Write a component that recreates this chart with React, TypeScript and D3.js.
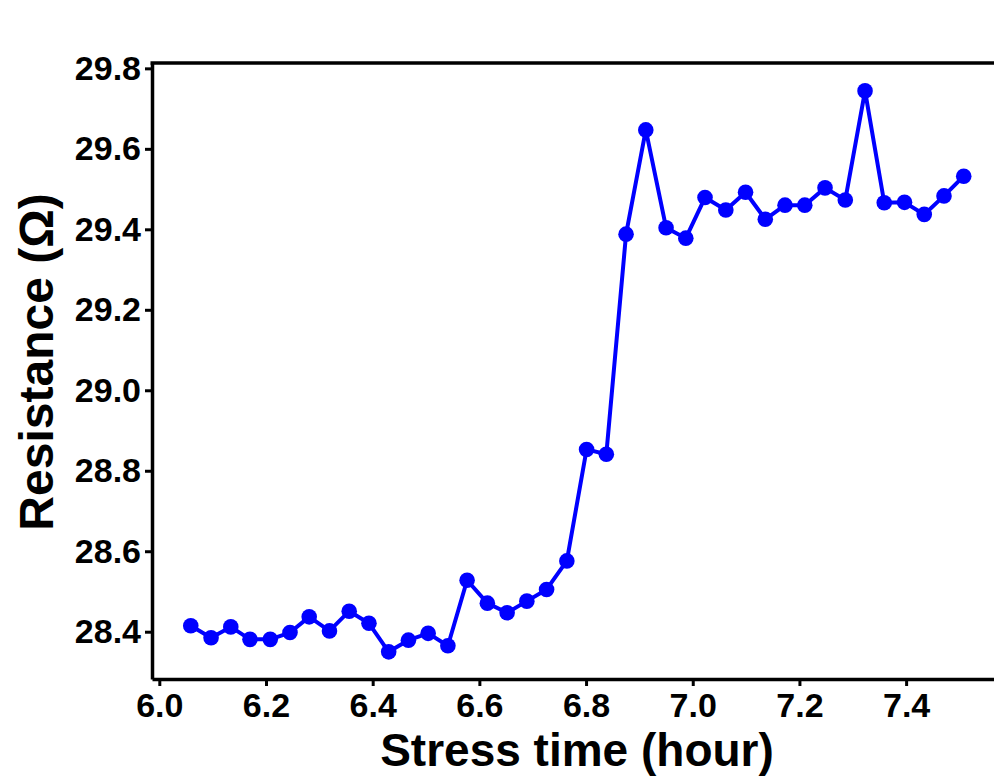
import React, { useEffect, useRef } from "react";
import * as d3 from "d3";

// stress time (hour) for every measurement
const times = [
  6.059, 6.097, 6.134, 6.170, 6.208, 6.245, 6.281, 6.319, 6.356, 6.393,
  6.430, 6.467, 6.504, 6.541, 6.577, 6.615, 6.652, 6.689, 6.726, 6.764,
  6.801, 6.838, 6.875, 6.912, 6.950, 6.987, 7.023, 7.062, 7.099, 7.136,
  7.173, 7.210, 7.248, 7.286, 7.323, 7.359, 7.397, 7.434, 7.471, 7.508,
];

// resistance (ohm)
const resistance = [
  28.415, 28.385, 28.412, 28.381, 28.381, 28.398, 28.437, 28.402, 28.451, 28.421,
  28.350, 28.379, 28.396, 28.365, 28.528, 28.471, 28.447, 28.476, 28.505, 28.576,
  28.853, 28.841, 29.388, 29.647, 29.404, 29.378, 29.479, 29.448, 29.492, 29.425,
  29.460, 29.460, 29.503, 29.473, 29.744, 29.466, 29.467, 29.437, 29.483, 29.532,
];

const xTicks = [6.0, 6.2, 6.4, 6.6, 6.8, 7.0, 7.2, 7.4];
const yTicks = [28.4, 28.6, 28.8, 29.0, 29.2, 29.4, 29.6, 29.8];

const W = 994;
const H = 779;
const FONT = "'Liberation Sans', Arial, Helvetica, sans-serif";

export default function App() {
  const ref = useRef<SVGSVGElement>(null);

  useEffect(() => {
    const svg = d3.select(ref.current);
    svg.selectAll("*").remove();

    const left = 152, right = 1000, top = 63, bottom = 679;

    const x = d3.scaleLinear().domain([5.9863, 7.576]).range([left, right]);
    const y = d3.scaleLinear().domain([28.2825, 29.8133]).range([bottom, top]);

    const data = times.map((t, i) => ({ t, r: resistance[i] }));

    // top frame line
    svg.append("line")
      .attr("x1", left - 1.5).attr("x2", right)
      .attr("y1", top).attr("y2", top)
      .attr("stroke", "#000").attr("stroke-width", 3.5);

    const xAxis = svg.append("g")
      .attr("transform", `translate(0,${bottom})`)
      .call(d3.axisBottom(x).tickValues(xTicks).tickFormat(d3.format(".1f")).tickSize(7).tickSizeOuter(0).tickPadding(7));

    const yAxis = svg.append("g")
      .attr("transform", `translate(${left},0)`)
      .call(d3.axisLeft(y).tickValues(yTicks).tickFormat(d3.format(".1f")).tickSize(7).tickSizeOuter(0).tickPadding(4));

    [xAxis, yAxis].forEach(g => {
      g.select(".domain").attr("stroke", "#000").attr("stroke-width", 3.5);
      g.selectAll(".tick line").attr("stroke", "#000").attr("stroke-width", 3);
      g.selectAll(".tick text")
        .attr("fill", "#000")
        .style("font-family", FONT)
        .style("font-weight", "bold")
        .style("font-size", "34px");
    });

    const line = d3.line<{ t: number; r: number }>()
      .x(d => x(d.t))
      .y(d => y(d.r));

    svg.append("path")
      .datum(data)
      .attr("d", line)
      .attr("fill", "none")
      .attr("stroke", "#0000ff")
      .attr("stroke-width", 4)
      .attr("stroke-linejoin", "round");

    svg.append("g")
      .selectAll("circle")
      .data(data)
      .enter().append("circle")
      .attr("cx", d => x(d.t))
      .attr("cy", d => y(d.r))
      .attr("r", 7.8)
      .attr("fill", "#0000ff");

    svg.append("text")
      .attr("x", 577).attr("y", 766)
      .attr("text-anchor", "middle")
      .style("font-family", FONT).style("font-weight", "bold").style("font-size", "46px")
      .text("Stress time (hour)");

    svg.append("text")
      .attr("transform", "translate(53,362) rotate(-90)")
      .attr("text-anchor", "middle")
      .style("font-family", FONT).style("font-weight", "bold").style("font-size", "48px")
      .text("Resistance (Ω)");
  }, []);

  return (
    <svg
      ref={ref}
      width={W}
      height={H}
      style={{ position: "absolute", left: 0, top: 0, background: "#fff" }}
    />
  );
}
